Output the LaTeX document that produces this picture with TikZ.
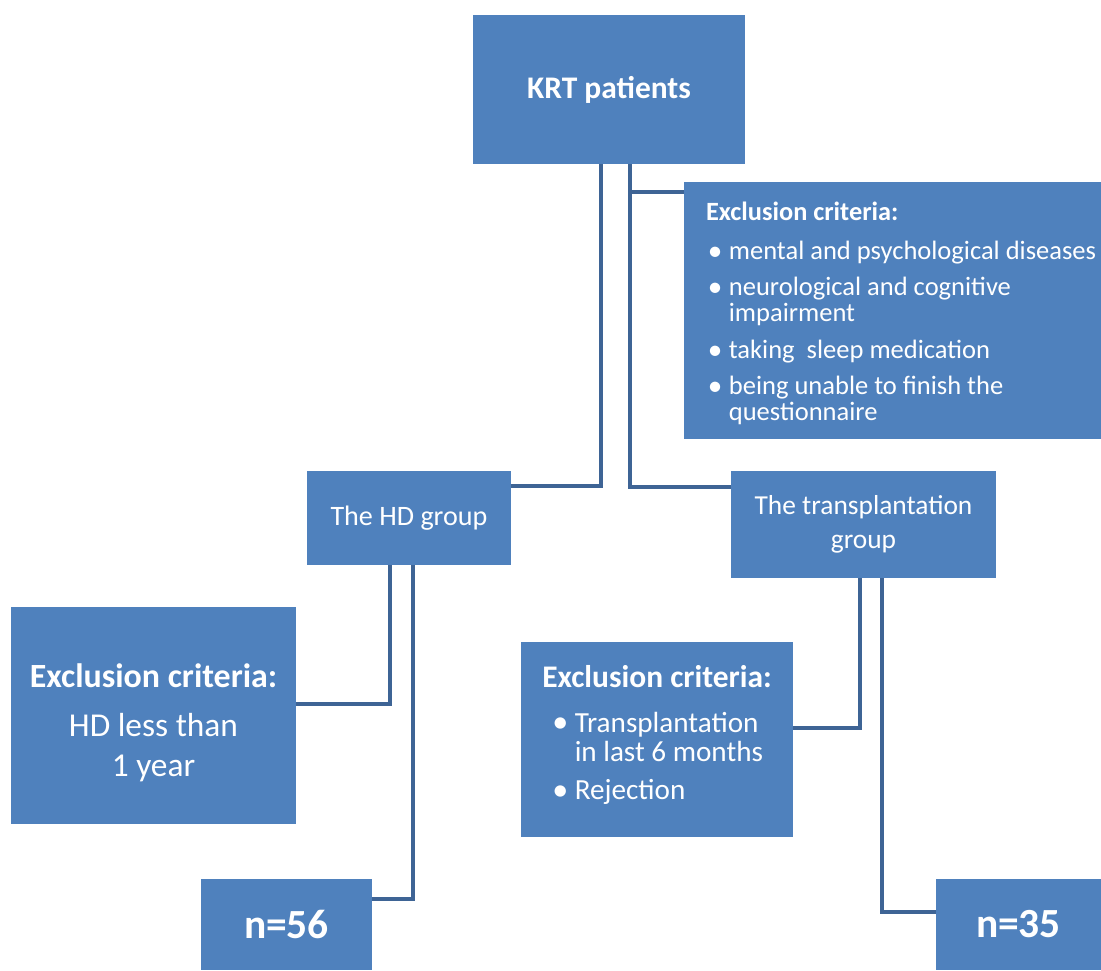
\documentclass[tikz,border=0pt]{standalone}
\usepackage{fontspec}
\setmainfont{Carlito}
\usetikzlibrary{calc}
\definecolor{boxblue}{RGB}{79,129,189}
\definecolor{lineblue}{RGB}{62,100,149}
\newcommand{\bitem}[2]{\makebox[#2][l]{\hspace*{#1}\raisebox{-0.03em}{\scalebox{1.1}{\textbullet}}}}

\begin{document}
\begin{tikzpicture}[x=0.02cm, y=-0.02cm,
                    box/.style = {fill=boxblue, text=white, inner sep=0pt, align=center},
                    boxtext/.style = {text=white, inner sep=0pt},
                    link/.style = {draw=lineblue, line width=0.08cm}]
    \useasboundingbox (0,0) rectangle (1101,970);

    \node [box, minimum width=5.44cm, minimum height=2.98cm,
           font=\bfseries\fontsize{17.9}{21}\selectfont] (krt) at (609,89.5) {KRT patients};

    \node [box, minimum width=8.34cm, minimum height=5.14cm] (excl1) at (892.5,310.5) {};
    \node [boxtext, anchor=west, align=left,
           font=\fontsize{15.1}{14.7}\selectfont] (excl1text) at ($(excl1.west)+(22,3)$)
          {{\bfseries\fontsize{15}{15}\selectfont Exclusion criteria:}\\[7.4pt]
           \bitem{1pt}{13pt}mental and psychological diseases\\[5.7pt]
           \bitem{1pt}{13pt}neurological and cognitive\\
           \hspace*{13pt}impairment\\[6.8pt]
           \bitem{1pt}{13pt}taking\ \ sleep medication\\[5.7pt]
           \bitem{1pt}{13pt}being unable to finish the\\
           \hspace*{13pt}questionnaire};

    \node [box, minimum width=4.08cm, minimum height=1.88cm,
           font=\fontsize{16}{18}\selectfont] (hd) at (409,518) {The HD group};
    \node [box, minimum width=5.30cm, minimum height=2.14cm,
           font=\fontsize{15.6}{19}\selectfont] (trans) at (863.5,524.5) {The transplantation\\group};

    \node [box, minimum width=5.70cm, minimum height=4.34cm] (excl2) at (153.5,715.5) {};
    \node [boxtext, align=center,
           font=\fontsize{19}{22.7}\selectfont] (excl2text) at ($(excl2.center)+(0,7)$)
          {{\bfseries\fontsize{19.3}{22}\selectfont Exclusion criteria:}\\[5.1pt]
           HD less than\\
           1 year};

    \node [box, minimum width=5.44cm, minimum height=3.90cm] (excl3) at (657,739.5) {};
    \node [boxtext, align=left,
           font=\fontsize{16.6}{17}\selectfont] (excl3text) at ($(excl3.center)+(0,-4.5)$)
          {{\bfseries\fontsize{17.9}{17}\selectfont Exclusion criteria:}\\[8.4pt]
           \bitem{5.7pt}{18.5pt}Transplantation\\
           \hspace*{18.5pt}in last 6 months\\[4.5pt]
           \bitem{5.7pt}{18.5pt}Rejection};

    \node [box, minimum width=3.42cm, minimum height=1.82cm,
           font=\bfseries\fontsize{23.6}{27}\selectfont] (n56) at (286.5,924.5) {n=56};
    \node [box, minimum width=3.30cm, minimum height=1.82cm,
           font=\bfseries\fontsize{23.6}{27}\selectfont] (n35) at (1018.5,924.5) {n=35};

    \draw [link] ($(krt.south)+(-8,0)$) |- ($(hd.north east)+(0,15)$);
    \draw [link] ($(krt.south)+(21,0)$) |- ($(excl1.north west)+(0,10)$);
    \draw [link] ($(krt.south)+(21,0)$) |- ($(trans.north west)+(0,16)$);
    \draw [link] ($(hd.south)+(-19,0)$) |- ($(excl2.north east)+(0,97)$);
    \draw [link] ($(hd.south)+(4,0)$) |- ($(n56.north east)+(0,20)$);
    \draw [link] ($(trans.south)+(-3.5,0)$) |- ($(excl3.north east)+(0,86)$);
    \draw [link] ($(trans.south)+(18.5,0)$) |- ($(n35.north west)+(0,33)$);
\end{tikzpicture}
\end{document}
